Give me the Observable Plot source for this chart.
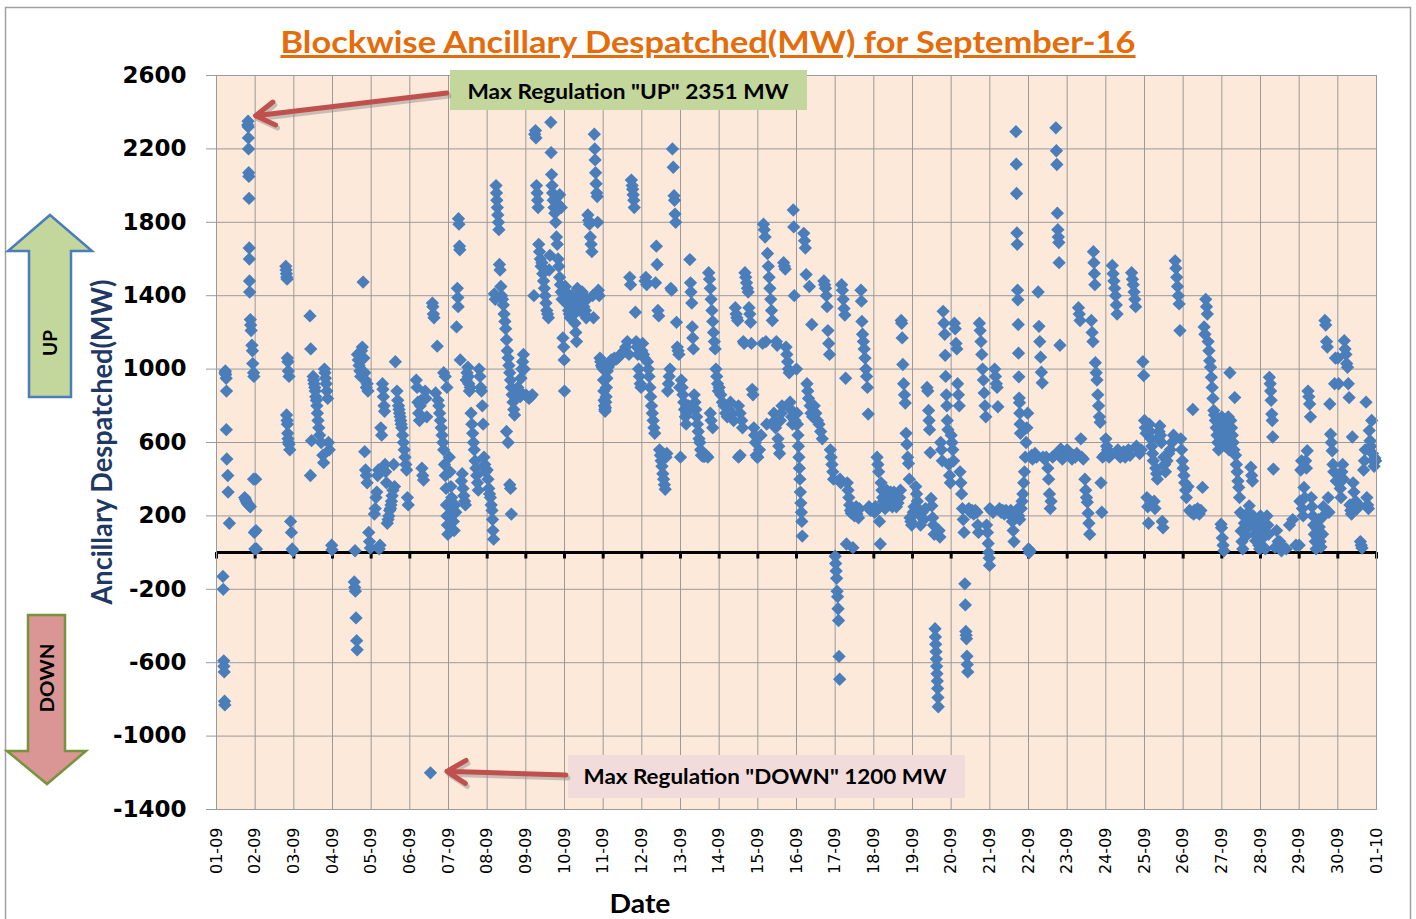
<!DOCTYPE html>
<html><head><meta charset="utf-8">
<script src="https://cdn.jsdelivr.net/npm/d3@7"></script>
<script src="https://cdn.jsdelivr.net/npm/@observablehq/plot@0.6"></script>
<style>
body{margin:0;background:#fff;}
#wrap{position:relative;width:1416px;height:919px;overflow:hidden;background:#fff;}
</style></head><body><div id="wrap"></div>
<script>
// ---- Data: [hour of day, MW despatched] per day of September 2016 ----
const day01 = [[4,-130],[4.2,-200],[4.5,-590],[4.6,-620],[4.8,-650],[5,-810],[5.2,-830],[5.3,980],[5.5,990],[5.7,970],[6,950],[6.2,880],[6.1,670],[6.4,510],[7,420],[7.2,330],[8,160],[17.5,300],[18,290],[18.5,280],[19,270],[19.5,265],[20,260],[20.5,255],[21,250],[19.4,2330],[19.6,2351],[19.7,2320],[19.8,2260],[19.9,2200],[20,2070],[20.1,2050],[20.2,1930],[20.3,1660],[20.4,1600],[20.5,1480],[20.6,1420],[21,1270],[21.2,1240],[21.5,1210],[22,1130],[22.3,1100],[22.5,1030],[23,980],[23.2,960],[23,400],[23.5,110],[23.8,20]];
const day02 = [[0.3,400],[0.5,120],[0.8,20],[19,1560],[19.2,1540],[19.4,1520],[19.6,1500],[19.8,1490],[20,1060],[20.3,1040],[20.6,990],[21,960],[19.5,750],[19.8,720],[20,700],[20.2,650],[20.4,620],[20.7,600],[21,590],[21.5,560],[22,170],[22.5,110],[23,20],[23.5,10]];
const day03 = [[10,1290],[10.5,1110],[10.3,420],[11,610],[12,960],[12.3,940],[12.6,920],[13,900],[13.3,880],[13.6,850],[14,830],[14.3,800],[14.6,760],[15,720],[15.5,680],[16,640],[17,600],[18,530],[18.5,490],[19,1000],[19.3,980],[19.6,950],[20,920],[20.5,880],[21,840],[21.5,600],[22,560],[23.5,40],[23.7,15]];
const day04 = [[14,10],[13.5,-160],[13.8,-190],[14.2,-210],[14.6,-356],[15,-480],[15.3,-530],[19,1474],[15.5,1080],[16,1050],[16.5,1020],[17,990],[17.5,960],[18,1100],[18.5,1120],[19.5,1060],[20,980],[20.5,940],[21,900],[21.5,920],[22,880],[20,550],[20.5,450],[21,420],[21.5,380],[22.5,110],[23,60],[23.5,25]];
const day05 = [[2,210],[2.5,240],[3,300],[3.5,330],[4,420],[4.5,450],[5,20],[5.5,40],[6,680],[6.5,640],[7,920],[7.3,890],[7.6,850],[8,800],[8.3,770],[8.6,480],[9,440],[9.5,380],[10,160],[10.5,180],[11,200],[11.5,230],[12,240],[12.3,260],[12.6,280],[13,310],[13.5,340],[14,480],[14.5,360],[15,1040],[16,880],[16.5,830],[17,800],[17.3,780],[17.6,760],[18,740],[18.3,720],[18.6,700],[19,680],[19.5,640],[20,600],[20.5,560],[21,520],[21.5,480],[22,450],[22.5,300],[23,260]];
const day06 = [[4,940],[4.5,900],[5,820],[5.5,760],[6,720],[6.5,800],[7,830],[7.5,460],[8,420],[8.5,395],[9.5,880],[10,840],[10.5,740],[12.8,-1200],[14,1360],[14.3,1340],[14.6,1300],[15,1280],[17,1125],[16,870],[17.5,830],[18,800],[18.5,760],[19,720],[19.5,680],[20,640],[20.5,600],[21,560],[21.5,480],[22,420],[22.5,350],[22.7,260],[23,200],[23.3,150],[23.6,100],[21,980],[22,960],[23,900]];
const day07 = [[0.5,520],[1,440],[1.5,360],[2,300],[2.5,230],[3,170],[3.5,120],[4,260],[4.5,220],[5,1230],[5.5,1440],[5.8,1390],[6,1340],[6.2,1820],[6.5,1790],[6.8,1670],[7,1650],[7.3,1050],[8,390],[8.5,430],[9,350],[9.5,310],[10,280],[10.5,260],[11,940],[11.5,980],[12,1010],[12.3,960],[12.6,920],[13,880],[13.5,900],[14,760],[14.5,700],[15,650],[15.5,600],[16,560],[16.5,500],[17,460],[17.5,420],[18,380],[18.5,340],[19,1000],[19.5,960],[20,900],[20.5,880],[21,800],[21.5,700],[22,520],[22.5,480],[23,440]];
const day08 = [[0,450],[0.5,400],[1,350],[1.5,320],[2,300],[2.5,260],[3,230],[3.3,180],[3.6,120],[4,73],[4.5,1410],[5,1380],[5.5,2000],[5.8,1960],[6,1920],[6.3,1880],[6.6,1840],[7,1800],[7.3,1760],[7.6,1570],[8,1540],[8.5,1450],[9,1400],[9.5,1380],[10,1350],[10.5,1300],[11,1260],[11.5,1220],[12,1160],[12.5,1100],[13,1060],[13.5,1020],[14,980],[14.5,940],[15,900],[15.5,860],[16,820],[16.5,780],[17,750],[12,660],[13,600],[14,370],[14.5,350],[15,210],[18,870],[19,900],[20,880],[20.5,850],[21,950],[21.5,1000],[22,1040],[22.5,1080],[23,1000]];
const day09 = [[0,860],[1,850],[2,840],[3,850],[4,860],[5,1400],[5.5,2280],[6,2300],[6.3,2260],[6.6,2000],[7,1960],[7.3,1920],[7.6,1880],[8,1680],[8.5,1640],[9,1600],[9.5,1560],[10,1580],[10.5,1520],[11,1480],[11.5,1440],[12,1400],[12.5,1360],[13,1320],[13.5,1300],[14,1280],[14.5,1540],[15,1620],[15.5,2345],[15.7,2180],[16,2060],[16.3,2000],[16.6,1960],[17,1920],[17.5,1880],[18,1850],[18.5,1800],[19,1720],[19.5,1680],[20,1600],[20.5,1560],[21,1500],[21.5,1460],[22,1420],[22.5,1380],[23,1170],[23.5,1120],[23.8,1050],[20,1900],[21,1950],[22,1880]];
const day10 = [[0,880],[0.5,1450],[1,1420],[1.5,1380],[2,1350],[2.5,1320],[3,1300],[3.5,1280],[4,1380],[4.5,1400],[5,1360],[5.5,1330],[6,1300],[6.5,1250],[7,1200],[7.5,1150],[8,1440],[8.5,1400],[9,1350],[9.5,1320],[10,1380],[10.5,1360],[11,1420],[11.5,1400],[12,1340],[12.5,1300],[13,1320],[13.5,1280],[14,1380],[14.5,1840],[15,1810],[15.5,1790],[16,1720],[16.5,1680],[17,1640],[17.5,1400],[18,1280],[18.5,2280],[18.8,2200],[19,2140],[19.3,2070],[19.6,2010],[20,1960],[20.3,1940],[20.6,1800],[21,1430],[21.5,1400],[22,1060],[22.5,1040],[23,1020],[23.5,1010]];
const day11 = [[0,1000],[0.2,940],[0.4,880],[0.6,830],[0.8,800],[1,780],[1.2,770],[1.4,790],[1.6,820],[1.8,850],[2,900],[2.3,950],[2.6,990],[3,1010],[3.5,1020],[4,1030],[4.5,1040],[5,1050],[5.5,1040],[6,1050],[7,1060],[8,1055],[9,1060],[10,1070],[11,1080],[12,1090],[13,1100],[14,1120],[15,1150],[16,1080],[16.5,1500],[17,1460],[17.5,2030],[18,2000],[18.3,1980],[18.6,1950],[19,1920],[19.3,1880],[20,1310],[20.5,1150],[21,1120],[21.5,1080],[22,1000],[22.5,960],[23,920],[23.5,900]];
const day12 = [[0,1100],[0.5,1140],[1,1080],[1.5,1060],[2,1480],[2.5,1500],[3,1460],[3.5,1040],[4,1000],[4.5,960],[5,900],[5.5,850],[6,800],[6.5,760],[7,720],[7.5,680],[8,650],[8.5,1470],[9,1670],[9.5,1570],[10,1320],[10.5,1290],[11,560],[11.5,530],[12,500],[12.5,470],[13,430],[13.5,400],[14,370],[14.5,345],[15,520],[15.5,540],[16,880],[16.5,920],[17,960],[17.5,1000],[18,1440],[18.5,1430],[19,2200],[19.5,2100],[20,1945],[20.3,1920],[20.6,1845],[21,1800],[21.5,1255],[22,1120],[22.5,1100],[23,1080],[23.5,900]];
const day13 = [[0,520],[0.5,940],[1,900],[1.5,860],[2,820],[2.5,780],[3,740],[3.5,700],[4,760],[5,800],[5.8,1597],[6.2,1470],[6.5,1420],[7,1360],[7.3,1230],[7.6,1170],[8,1110],[8.5,860],[9,820],[9.5,780],[10,740],[10.5,700],[11,660],[11.5,620],[12,600],[12.5,560],[13,530],[14,525],[15,525],[16,530],[17,520],[17.5,1525],[18,1490],[18.5,1440],[19,1380],[19.5,1320],[20,1260],[20.5,1200],[21,1150],[21.5,1110],[22,1000],[22.5,960],[23,920],[23.5,880],[18.5,760],[19,720],[20,680]];
const day14 = [[0,900],[1,860],[2,820],[3,800],[4,760],[5,740],[6,780],[7,820],[8,760],[9,720],[10,1335],[10.5,1300],[11,1280],[11.5,1265],[12,800],[13,760],[14,720],[14.5,680],[15,1150],[15.5,1140],[16,1525],[16.5,1500],[17,1470],[17.5,1440],[18,1420],[18.5,1335],[19,1300],[19.5,1255],[20,1140],[20.5,890],[21,860],[21.5,680],[22,640],[22.5,600],[23,530],[23.5,520],[12,520],[13,530]];
const day15 = [[0,520],[1,560],[2,640],[3,1140],[3.5,1790],[4,1760],[4.5,1720],[5,1150],[5.5,700],[6,1630],[6.5,1560],[7,1500],[7.5,1440],[8,1380],[8.5,1320],[9,1265],[10,760],[10.5,720],[11,680],[11.5,1150],[12,1130],[12.5,620],[13,580],[13.5,540],[14,720],[14.5,760],[15,800],[16,1580],[16.5,1560],[17,1545],[17.5,1120],[18,1080],[18.5,1040],[19,1000],[19.5,980],[20,820],[20.5,780],[21,740],[21.5,700],[22,1867],[22.3,1775],[22.6,1400],[23,720],[23.5,700]];
const day16 = [[0,1000],[0.3,760],[0.6,700],[0.9,640],[1.2,580],[1.5,520],[1.8,460],[2.1,400],[2.4,330],[2.7,270],[3,220],[3.3,170],[3.6,90],[4.5,1740],[5,1700],[5.5,1660],[6,1515],[6.5,920],[7,880],[7.5,840],[8,1450],[8.5,800],[9,760],[9.5,1243],[10,740],[11,800],[12,760],[13,720],[14,700],[15,660],[16,620],[17,1480],[17.5,1460],[18,1440],[18.5,1400],[19,1340],[19.5,1210],[20,1140],[20.5,1080],[21,560],[21.5,520],[22,480],[22.5,440],[23,400]];
const day17 = [[0,-20],[0.3,-60],[0.6,-100],[0.9,-140],[1.2,-210],[1.5,-240],[1.8,-306],[2.1,-370],[2.4,-566],[2.8,-690],[3,400],[3.5,380],[4,1460],[4.5,1430],[5,1380],[5.5,1330],[6,1295],[6.5,950],[7,47],[7.5,380],[8,340],[8.5,300],[9,260],[9.5,230],[10,215],[10.5,240],[11,27],[11.5,220],[12,200],[12.5,230],[13,250],[13.5,210],[14,230],[14.5,190],[15,240],[16,1430],[16.3,1370],[16.6,1260],[17,1190],[17.5,1150],[18,1110],[18.5,1060],[19,1000],[19.5,960],[20,900],[20.5,755],[21,250],[22,230],[23,230]];
const day18 = [[0,240],[0.5,220],[1,250],[1.5,230],[2,520],[2.5,480],[3,440],[3.5,170],[4,47],[4.5,380],[5,340],[5.5,300],[6,280],[6.5,260],[7,240],[7.5,300],[8,340],[8.5,320],[9,290],[9.5,260],[10,300],[10.5,330],[11,280],[11.5,250],[12,300],[12.5,330],[13,290],[13.5,260],[14,250],[15,270],[16,300],[16.5,340],[17,1265],[17.3,1250],[17.6,1170],[18,1025],[18.5,920],[19,860],[19.5,815],[20,650],[20.5,590],[21,520],[21.5,485],[22,400],[22.5,190],[23,170],[23.5,150]];
const day19 = [[0,200],[0.5,220],[1,250],[1.5,220],[2,360],[2.5,320],[3,280],[3.5,240],[4,210],[5,150],[6,220],[7,180],[8,240],[9,900],[9.5,880],[10,775],[10.3,720],[10.6,670],[11,545],[11.5,295],[12,255],[12.5,190],[13,150],[13.5,100],[14,-415],[14.2,-460],[14.4,-500],[14.6,-540],[14.8,-580],[15,-620],[15.2,-660],[15.4,-700],[15.6,-740],[15.8,-790],[16,-840],[16.5,120],[17,85],[17.5,600],[18,560],[18.5,500],[19,1315],[19.5,1250],[20,1190],[20.3,1075],[20.6,960],[21,860],[21.3,800],[21.6,720],[22,670],[22.5,480],[23,420],[23.5,380]];
const day20 = [[0,640],[0.5,600],[1,560],[1.5,500],[2,1250],[2.5,1220],[3,1140],[3.5,1110],[4,920],[4.5,860],[5,800],[5.5,440],[6,380],[6.5,320],[7,240],[7.5,180],[8,110],[8.5,-170],[8.8,-285],[9.1,-430],[9.3,-450],[9.5,-470],[9.8,-565],[10,-610],[10.3,-650],[11,240],[12,220],[13,230],[14,210],[15,230],[16,220],[16.5,150],[17,110],[17.5,1250],[18,1210],[18.5,1150],[19,1080],[19.5,1000],[20,940],[20.5,870],[21,800],[21.5,740],[22,150],[22.5,110],[23,50],[23.3,0],[23.6,-30],[23.8,-70]];
const day21 = [[0,240],[1,230],[2,220],[3,1000],[3.5,960],[4,920],[4.5,900],[5,795],[6,240],[7,220],[8,230],[9,210],[10,230],[11,220],[12,210],[13,230],[14,170],[14.5,120],[15,60],[15.5,200],[16,220],[16.2,2294],[16.4,2117],[16.6,1957],[16.8,1742],[17,1680],[17.2,1430],[17.4,1378],[17.6,1243],[17.8,1087],[18,958],[18.2,842],[18.4,817],[18.6,760],[18.8,700],[19,650],[17.5,240],[18,200],[18.5,180],[19.5,240],[20,280],[20.5,320],[21,380],[21.5,440],[22,520],[22.5,600],[23,680],[23.5,760]];
const day22 = [[0,20],[0.5,0],[1,10],[1.5,520],[2,530],[2.5,510],[3,520],[4,540],[5,520],[6,1420],[6.5,1233],[7,1150],[7.5,1065],[8,983],[8.5,925],[9,520],[10,510],[11,520],[12,460],[12.5,400],[13,320],[13.5,240],[14,280],[15,520],[16,530],[17,2315],[17.3,2190],[17.6,2115],[17.9,1850],[18.2,1760],[18.5,1720],[18.8,1690],[19,1580],[19.5,1130],[20,565],[20.5,520],[21,510],[22,520],[23,530]];
const day23 = [[0,560],[1,540],[2,520],[3,510],[4,530],[5,520],[6,540],[7,1335],[7.5,1300],[8,1265],[8.5,620],[9,520],[10,510],[11,400],[11.5,340],[12,300],[12.5,275],[13,215],[13.5,160],[14,100],[15,1265],[15.5,1200],[16,1150],[16.3,1640],[16.6,1580],[16.9,1520],[17.2,1460],[17.5,1035],[18,980],[18.5,940],[19,860],[19.5,800],[20,740],[20.5,710],[21,380],[21.5,220],[22,520],[23,530]];
const day24 = [[0,620],[0.5,580],[1,560],[1.5,540],[2,520],[3,530],[4,1565],[4.5,1520],[5,1480],[5.5,1440],[6,1400],[6.5,1350],[7,1300],[7.5,560],[8,540],[9,520],[10,530],[11,550],[12,520],[13,540],[14,560],[15,530],[16,1525],[16.5,1490],[17,1460],[17.5,1420],[18,1380],[18.5,1340],[19,580],[20,560],[21,540],[22,560],[23,1040],[23.5,965]];
const day25 = [[0,720],[0.5,680],[1,650],[1.5,300],[2,250],[2.5,160],[3,700],[3.5,660],[4,620],[4.5,580],[5,540],[5.5,500],[6,280],[6.5,240],[7,460],[7.5,430],[8,400],[8.5,620],[9,660],[9.5,690],[10,640],[10.5,600],[11,170],[11.5,135],[12,520],[12.5,480],[13,440],[14,500],[15,540],[16,560],[17,600],[18,640],[19,1590],[19.5,1550],[20,1500],[20.5,1450],[21,1400],[21.5,1355],[22,1210],[22.5,620],[23,560],[23.5,500]];
const day26 = [[0,460],[0.5,420],[1,380],[1.5,340],[2,300],[3,360],[4,230],[5,220],[6,780],[6.5,210],[7,230],[8,220],[9,240],[10,210],[11,230],[12,355],[13,1230],[13.5,1190],[14,1380],[14.5,1340],[15,1300],[15.5,1150],[16,1100],[16.5,1045],[17,1010],[17.5,955],[18,900],[18.5,840],[19,775],[19.5,750],[20,720],[20.5,680],[21,640],[21.5,600],[22,560],[22.5,700],[23,660],[23.5,155],[23.8,135]];
const day27 = [[0,740],[0.3,80],[0.5,700],[0.8,40],[1,650],[1.3,10],[1.5,600],[2,580],[2.5,620],[3,660],[3.5,700],[4,740],[4.5,560],[5,980],[5.5,720],[6,680],[6.5,640],[7,600],[7.5,560],[8,845],[8.5,530],[9,480],[9.5,440],[10,390],[10.5,355],[11,300],[11.5,218],[12,118],[12.5,60],[13,20],[13.5,200],[14,160],[14.5,120],[15,90],[15.5,140],[16,180],[16.5,220],[17,255],[18,465],[18.5,420],[19,390],[19.5,200],[20,150],[20.5,100],[21,64],[21.5,130],[22,180],[22.5,90],[23,40],[23.5,20]];
const day28 = [[0,200],[0.5,160],[1,120],[1.5,80],[2,28],[3,20],[4,200],[4.5,150],[5,100],[5.5,955],[6,920],[6.3,880],[6.6,830],[7,755],[7.3,720],[7.6,630],[8,455],[9,28],[10,120],[11,60],[12,60],[13,10],[14,30],[16,20],[18,150],[20,180],[22,40]];
const day29 = [[0,40],[0.5,280],[1,450],[1.5,500],[2,240],[2.5,200],[3,355],[3.5,300],[4,500],[4.5,460],[5,555],[5.5,880],[6,850],[6.5,810],[7,740],[7.5,300],[8,250],[8.5,200],[9,150],[9.5,100],[10,60],[10.5,20],[11,130],[11.5,80],[12,180],[12.5,140],[13,60],[13.5,30],[14,190],[14.5,100],[15,250],[16,1265],[16.5,1240],[17,1150],[17.5,1120],[18,300],[18.5,220],[19,810],[19.5,645],[20,600],[20.5,555],[21,480],[21.5,440],[22,920],[22.5,1060],[23,390]];
const day30 = [[0,1060],[0.5,920],[1,400],[1.5,350],[2,300],[2.5,440],[3,480],[3.5,400],[4,1155],[4.5,1110],[5,1080],[5.5,1030],[6,1010],[6.5,920],[7,845],[7.5,260],[8,230],[8.5,210],[9,630],[9.5,380],[10,330],[11,280],[12,240],[13,260],[14,60],[14.5,40],[15,25],[16,450],[16.5,500],[17,560],[17.5,820],[18,300],[18.5,260],[19,240],[19.5,665],[20,610],[20.5,580],[21,720],[21.5,540],[22,500],[22.5,470],[23,515],[23.5,500]];

const yTicks = [-1400, -1000, -600, -200, 200, 600, 1000, 1400, 1800, 2200, 2600];
const titleText = "Blockwise Ancillary Despatched(MW) for September-16";
const yLabel = "Ancillary Despatched(MW)";
const xLabel = "Date";
const upNote = 'Max Regulation "UP" 2351 MW';
const downNote = 'Max Regulation "DOWN" 1200 MW';

// ---- Build table ----
const allDays = [day01,day02,day03,day04,day05,day06,day07,day08,day09,day10,day11,day12,day13,day14,day15,day16,day17,day18,day19,day20,day21,day22,day23,day24,day25,day26,day27,day28,day29,day30];
const points = [];
allDays.forEach((arr, i) => arr.forEach(([h, v]) => points.push({t: new Date(Date.UTC(2016, 8, i + 1) + h * 3600e3), v})));
const xStart = new Date(Date.UTC(2016, 8, 1)), xEnd = new Date(Date.UTC(2016, 9, 1));
const dayTicks = d3.utcDay.range(xStart, d3.utcDay.offset(xEnd, 1));

const chart = Plot.plot({
  width: 1416, height: 919,
  marginLeft: 216, marginRight: 40, marginTop: 75, marginBottom: 110,
  style: {background: "transparent", fontFamily: "DejaVu Sans", color: "black"},
  x: {type: "utc", domain: [xStart, xEnd]},
  y: {domain: [-1400, 2600]},
  marks: [
    Plot.frame({fill: "#FDE9D9", stroke: null}),
    Plot.gridX(dayTicks, {stroke: "#9a9a9a", strokeOpacity: 1}),
    Plot.gridY(yTicks, {stroke: "#9a9a9a", strokeOpacity: 1}),
    Plot.axisY(yTicks, {anchor: "left", tickSize: 10, tickPadding: 20, fontSize: 23, fontWeight: "bold", fontFamily: "DejaVu Sans", stroke: "#9a9a9a", tickFormat: d => String(d), label: null}),
    Plot.axisX(dayTicks, {anchor: "bottom", tickRotate: -90, tickFormat: d3.utcFormat("%d-%m"), tickSize: 0, tickPadding: 18, fontSize: 16, fontFamily: "DejaVu Sans", label: null}),
    Plot.ruleY([0], {stroke: "black", strokeWidth: 3}),
    Plot.ruleX(dayTicks, {y1: 0, y2: -35, stroke: "black", strokeWidth: 3}),
    Plot.dot(points, {x: "t", y: "v", symbol: "diamond2", r: 6, fill: "#4A7EBB", stroke: "none"}),
    Plot.frame({stroke: "#9a9a9a"})
  ]
});
document.getElementById("wrap").appendChild(chart);

// ---- Decorations ----
const svg = d3.select(chart);
const xs = chart.scale("x"), ys = chart.scale("y");
const g = svg.append("g");
g.append("rect").attr("x", 5.5).attr("y", 7.5).attr("width", 1405).attr("height", 930)
  .attr("fill", "none").attr("stroke", "#a0a0a0").attr("stroke-width", 1.5);

g.append("text").attr("x", 708).attr("y", 53).attr("text-anchor", "middle")
  .attr("font-family", "Lato").attr("font-weight", "bold").attr("font-size", 30)
  .attr("fill", "#E46C0A").attr("text-decoration", "underline")
  .attr("textLength", 855).attr("lengthAdjust", "spacingAndGlyphs").text(titleText);

g.append("text").attr("transform", "translate(112,442) rotate(-90)").attr("text-anchor", "middle")
  .attr("font-family", "Lato").attr("font-weight", "bold").attr("font-size", 28)
  .attr("fill", "#1F3864").attr("textLength", 325).attr("lengthAdjust", "spacingAndGlyphs").text(yLabel);

g.append("text").attr("x", 640).attr("y", 913).attr("text-anchor", "middle")
  .attr("font-family", "Lato").attr("font-weight", "bold").attr("font-size", 26)
  .attr("fill", "#000").attr("textLength", 61).attr("lengthAdjust", "spacingAndGlyphs").text(xLabel);

// block arrows
g.append("polygon").attr("points", "50,215 92,251 71,251 71,397 29,397 29,251 8,251")
  .attr("fill", "#C3D69B").attr("stroke", "#4A7EBB").attr("stroke-width", 2.5);
g.append("text").attr("transform", "translate(50,343) rotate(-90)").attr("text-anchor", "middle").attr("dy", "0.36em")
  .attr("font-family", "Lato").attr("font-weight", "bold").attr("font-size", 19).attr("fill", "#000").text("UP");
g.append("polygon").attr("points", "28,615 65,615 65,751 86,751 47,784 7,751 28,751")
  .attr("fill", "#D99694").attr("stroke", "#77933C").attr("stroke-width", 2.5);
g.append("text").attr("transform", "translate(47,678) rotate(-90)").attr("text-anchor", "middle").attr("dy", "0.36em")
  .attr("font-family", "Lato").attr("font-weight", "bold").attr("font-size", 19).attr("fill", "#000")
  .attr("textLength", 69).attr("lengthAdjust", "spacingAndGlyphs").text("DOWN");

// callout boxes
g.append("rect").attr("x", 450).attr("y", 70).attr("width", 357).attr("height", 40).attr("fill", "#C3D69B");
g.append("text").attr("x", 628).attr("y", 91).attr("dy", "0.36em").attr("text-anchor", "middle")
  .attr("font-family", "Lato").attr("font-weight", "bold").attr("font-size", 21).attr("fill", "#000")
  .attr("textLength", 321).attr("lengthAdjust", "spacingAndGlyphs").text(upNote);
g.append("rect").attr("x", 568).attr("y", 755).attr("width", 397).attr("height", 43).attr("fill", "#F2DCDB");
g.append("text").attr("x", 765).attr("y", 776).attr("dy", "0.36em").attr("text-anchor", "middle")
  .attr("font-family", "Lato").attr("font-weight", "bold").attr("font-size", 21).attr("fill", "#000")
  .attr("textLength", 363).attr("lengthAdjust", "spacingAndGlyphs").text(downNote);

function arrow(x1, y1, x2, y2) {
  const ang = Math.atan2(y2 - y1, x2 - x1), L = 22, a = 0.55;
  const p1 = [x2 - L * Math.cos(ang - a), y2 - L * Math.sin(ang - a)];
  const p2 = [x2 - L * Math.cos(ang + a), y2 - L * Math.sin(ang + a)];
  const d = `M${x1},${y1}L${x2},${y2}M${p1}L${x2},${y2}L${p2}`;
  g.append("path").attr("d", d).attr("transform", "translate(2,3)").attr("fill", "none")
    .attr("stroke", "#888").attr("stroke-opacity", 0.45).attr("stroke-width", 5).attr("stroke-linecap", "round").attr("stroke-linejoin", "round");
  g.append("path").attr("d", d).attr("fill", "none").attr("stroke", "#C0504D").attr("stroke-width", 5)
    .attr("stroke-linecap", "round").attr("stroke-linejoin", "round");
}
const maxP = d3.greatest(points, d => d.v), minP = d3.least(points, d => d.v);
arrow(447, 93, xs.apply(maxP.t) + 8, ys.apply(maxP.v) - 5);
arrow(566, 775, xs.apply(minP.t) + 17, ys.apply(minP.v) - 1);
</script></body></html>
